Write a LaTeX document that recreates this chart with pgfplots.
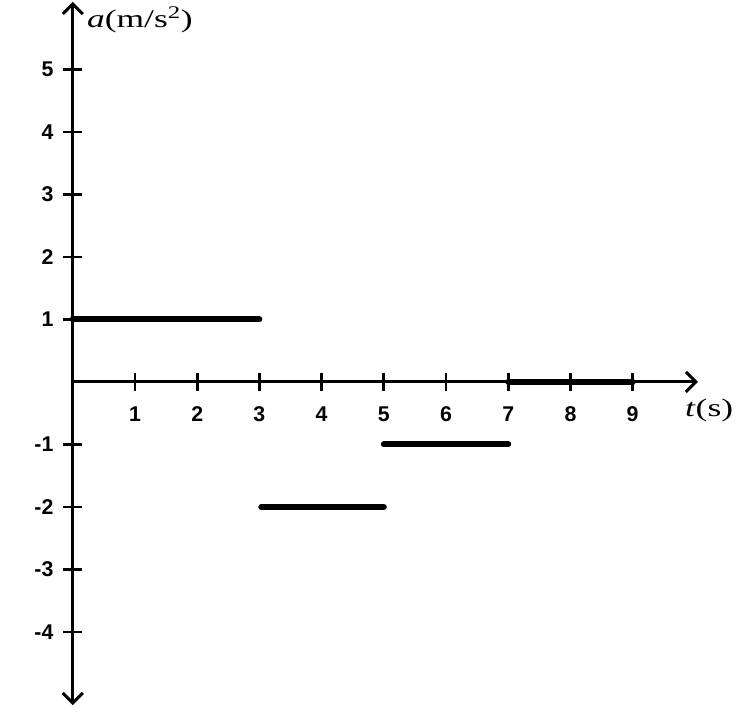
\documentclass[border=0pt]{standalone}
\usepackage{fontspec}
\setmainfont{Liberation Serif}
\newfontfamily\tickfont{Liberation Sans}
\newfontfamily\widefont[FakeStretch=1.4]{Liberation Serif}
\usepackage{pgfplots}
\pgfplotsset{compat=1.18}
\usetikzlibrary{arrows.meta}
\begin{document}
\begin{tikzpicture}
\begin{axis}[
  scale only axis,
  width=468.75pt,
  height=527.25pt,
  xmin=0, xmax=10.05, ymin=-5.17, ymax=6.08,
  axis lines=middle,
  axis line style={line width=2.25pt},
  x axis line style={-{Straight Barb[length=7.5pt,width=15pt]}},
  y axis line style={{Straight Barb[length=7.5pt,width=15pt]}-{Straight Barb[length=7.5pt,width=15pt]}},
  xtick={1,2,3,4,5,6,7,8,9},
  xticklabels={1,2,3,4,5,6,7,8,9},
  ytick={-4,-3,-2,-1,1,2,3,4,5},
  yticklabels={-4,-3,-2,-1,1,2,3,4,5},
  tick align=center,
  major tick length=14pt,
  tick style={line width=2pt, black},
  ticklabel style={font=\tickfont\bfseries\fontsize{16}{16}\selectfont},
  xticklabel style={yshift=-8pt},
  yticklabel style={xshift=-4pt},
  clip=false,
]
\addplot[black, line width=4.5pt, line cap=round] coordinates {(0,1) (3,1)};
\addplot[black, line width=4.5pt, line cap=round] coordinates {(3.03,-2) (5,-2)};
\addplot[black, line width=4.5pt, line cap=round] coordinates {(5,-1) (7,-1)};
\addplot[black, line width=4.5pt, line cap=round] coordinates {(7,0) (9,0)};
\node[anchor=west, inner sep=0pt, font=\widefont\fontsize{19}{19}\selectfont] at (axis cs:0.225,5.79) {\textit{a}(m/s\textsuperscript{2})};
\node[anchor=west, inner sep=0pt, font=\widefont\fontsize{19}{19}\selectfont] at (axis cs:9.84,-0.45) {\textit{t}(s)};
\coordinate (BL) at (axis cs:-1.17,-5.30);
\coordinate (TR) at (axis cs:10.79,6.11);
\end{axis}
\pgfresetboundingbox
\useasboundingbox (BL) rectangle (TR);
\end{tikzpicture}
\end{document}
